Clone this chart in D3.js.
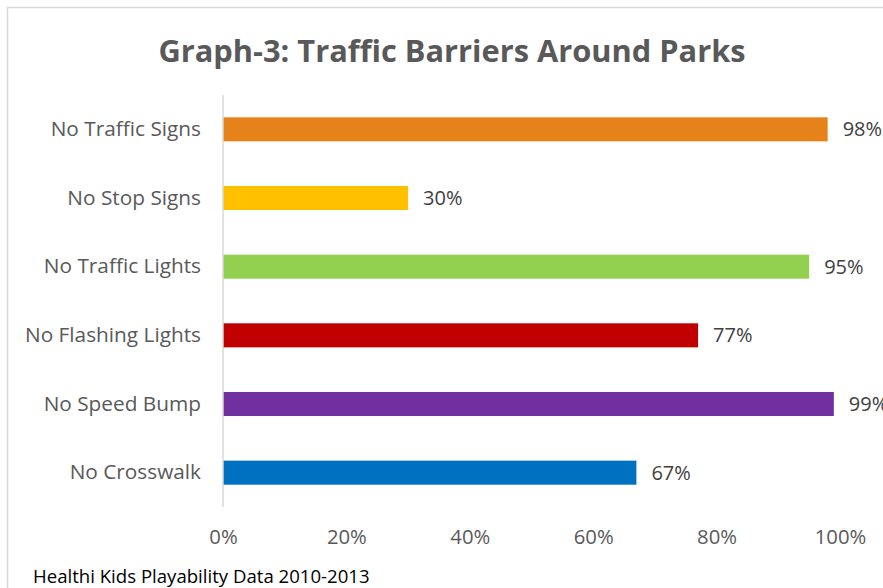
<!DOCTYPE html>
<html><head><meta charset="utf-8">
<script src="https://cdn.jsdelivr.net/npm/d3@7"></script>
<style>body{margin:0;background:#fff;} svg{display:block;}</style>
</head><body><svg id="c" width="883" height="588"></svg>
<script>
const categories = ["No Traffic Signs","No Stop Signs","No Traffic Lights","No Flashing Lights","No Speed Bump","No Crosswalk"];
const values = [98, 30, 95, 77, 99, 67];
const colors = ["#E5821A","#FFC000","#92D050","#C00000","#7030A0","#0070C0"];
const tickValues = [0,20,40,60,80,100];
const title = "Graph-3: Traffic Barriers Around Parks";
const footer = "Healthi Kids Playability Data 2010-2013";

const svg = d3.select("#c");
const font = "'Open Sans', Lato, sans-serif";
// border
svg.append("rect").attr("x",7.5).attr("y",7.5).attr("width",900).attr("height",600)
  .attr("fill","none").attr("stroke","#d9d9d9").attr("stroke-width",1.5);

const x = d3.scaleLinear().domain([0,100]).range([223,840]);
const y = d3.scaleBand().domain(categories).range([95,507]).paddingInner(0.65).paddingOuter(0.325);

svg.append("text").attr("x",452).attr("y",62).attr("text-anchor","middle")
  .attr("font-family",font).attr("font-weight","bold").attr("font-size",30.8).attr("fill","#595959").text(title);

svg.selectAll("rect.bar").data(values).enter().append("rect").attr("class","bar")
  .attr("x",x(0)).attr("y",(d,i)=>y(categories[i])).attr("width",d=>x(d)-x(0))
  .attr("height",y.bandwidth()).attr("fill",(d,i)=>colors[i]);

svg.selectAll("text.val").data(values).enter().append("text").attr("class","val")
  .attr("x",d=>x(d)+15).attr("y",(d,i)=>y(categories[i])+y.bandwidth()/2).attr("dy","0.35em")
  .attr("font-family",font).attr("font-size",20).attr("fill","#404040").text(d=>d+"%");

const yAxis = svg.append("g").attr("transform",`translate(${x(0)},0)`)
  .call(d3.axisLeft(y).tickSize(0).tickPadding(22));
yAxis.select(".domain").attr("stroke","#d9d9d9").attr("stroke-width",1.5).attr("d","M0,95V507");
yAxis.selectAll("text").attr("font-family",font).attr("font-size",20.8).attr("fill","#595959");

const xAxis = svg.append("g").attr("transform","translate(0,525)")
  .call(d3.axisBottom(x).tickValues(tickValues).tickFormat(d=>d+"%").tickSize(0).tickPadding(5));
xAxis.select(".domain").remove();
xAxis.selectAll("text").attr("font-family",font).attr("font-size",20.3).attr("fill","#595959");

svg.append("text").attr("x",33).attr("y",583).attr("font-family",font).attr("font-size",18.6)
  .attr("fill","#000").text(footer);
</script></body></html>
